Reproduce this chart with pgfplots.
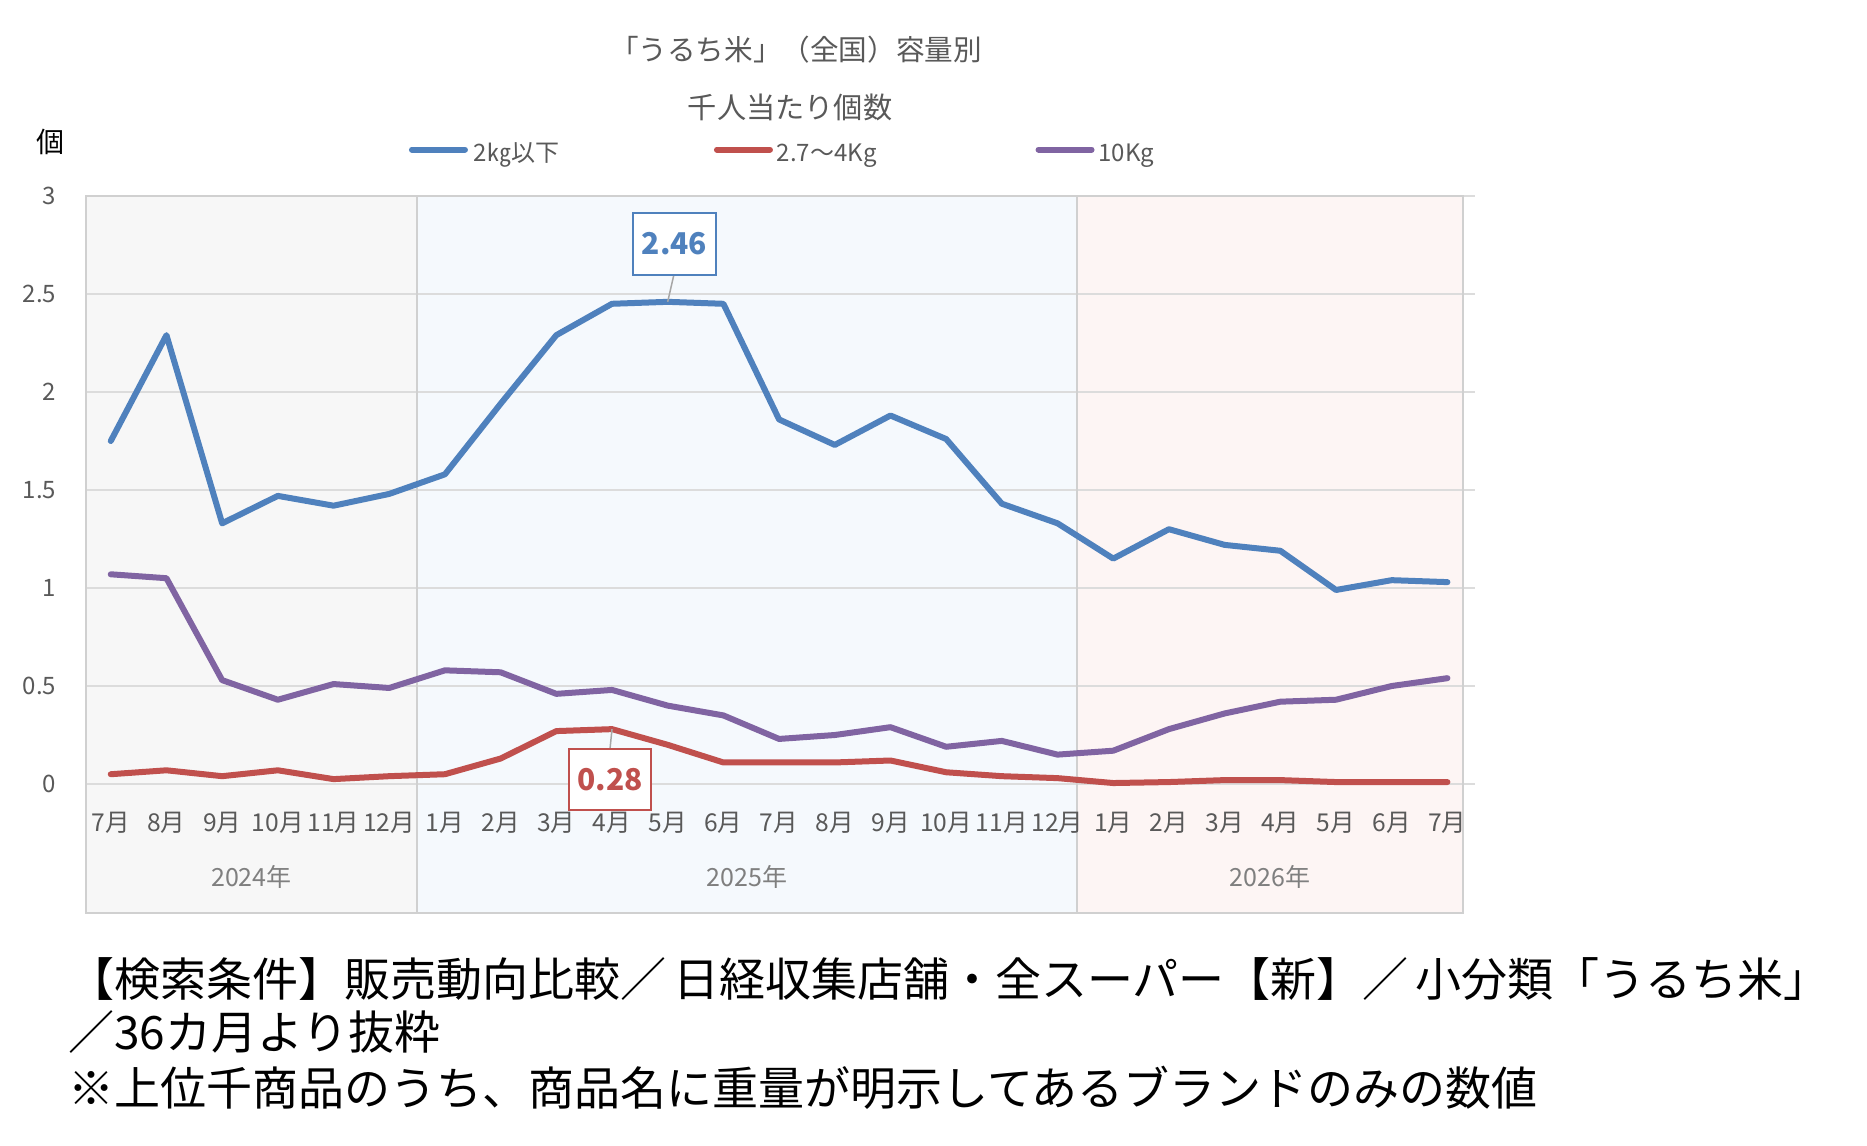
\documentclass[border=0pt]{standalone}
\usepackage{fontspec}
\setmainfont{Noto Sans CJK JP}
\usepackage{pgfplots}
\usepackage{pgfplotstable}
\pgfplotsset{compat=1.18}
\definecolor{cBlue}{HTML}{4F81BD}
\definecolor{cRed}{HTML}{C0504D}
\definecolor{cPurple}{HTML}{8064A2}
\definecolor{bgA}{HTML}{F7F7F7}
\definecolor{bgB}{HTML}{F5F9FD}
\definecolor{bgC}{HTML}{FDF5F4}
\definecolor{cGrid}{HTML}{DCDCDC}
\definecolor{cBorder}{HTML}{D0D0D0}
\definecolor{cText}{HTML}{595959}
\definecolor{cYear}{HTML}{7F7F7F}
\definecolor{cLeader}{HTML}{A6A6A6}

\pgfplotstableread{
x blue red purple
0 1.75 0.05 1.07
1 2.29 0.07 1.05
2 1.33 0.04 0.53
3 1.47 0.07 0.43
4 1.42 0.025 0.51
5 1.48 0.04 0.49
6 1.58 0.05 0.58
7 1.94 0.13 0.57
8 2.29 0.27 0.46
9 2.45 0.28 0.48
10 2.46 0.20 0.40
11 2.45 0.11 0.35
12 1.86 0.11 0.23
13 1.73 0.11 0.25
14 1.88 0.12 0.29
15 1.76 0.06 0.19
16 1.43 0.04 0.22
17 1.33 0.03 0.15
18 1.15 0.005 0.17
19 1.30 0.01 0.28
20 1.22 0.02 0.36
21 1.19 0.02 0.42
22 0.99 0.01 0.43
23 1.04 0.01 0.50
24 1.03 0.01 0.54
}\datatable

\begin{document}
\begin{tikzpicture}
\path (0,0) rectangle (933.5pt,572.5pt);
\begin{axis}[
  at={(42.85pt,116pt)}, anchor=south west,
  scale only axis, width=688.65pt, height=358.5pt,
  xmin=-0.45, xmax=24.28, ymin=-0.658, ymax=3,
  axis on top,
  axis line style={draw=none},
  tick style={draw=none}, major tick length=0pt,
  xtick={0,...,24},
  xticklabels={7月,8月,9月,10月,11月,12月,1月,2月,3月,4月,5月,6月,7月,8月,9月,10月,11月,12月,1月,2月,3月,4月,5月,6月,7月},
  ytick={0,0.5,1,1.5,2,2.5,3},
  yticklabels={0,0.5,1,1.5,2,2.5,3},
  xticklabel style={anchor=center, yshift=45pt, inner sep=0pt, font=\fontsize{12.3}{14}\selectfont, text=cText},
  yticklabel style={anchor=east, xshift=-14.5pt, inner sep=0pt, font=\fontsize{12}{14}\selectfont, text=cText},
  clip=false,
  legend columns=3,
  legend style={at={(axis description cs:0.2347,1.0586)}, anchor=west, draw=none, fill=none,
    inner sep=0pt, outer sep=0pt, column sep=0pt, font=\fontsize{12}{14}\selectfont, text=cText,
    nodes={inner sep=0pt}},
  legend image code/.code={\draw[line width=3pt, line cap=round] (0pt,0.22em) -- (26.5pt,0.22em);},
]
\fill[bgA] (axis cs:-0.45,-0.658) rectangle (axis cs:5.5,3);
\fill[bgB] (axis cs:5.5,-0.658) rectangle (axis cs:17.34,3);
\fill[bgC] (axis cs:17.34,-0.658) rectangle (axis cs:24.28,3);
\draw[cGrid, line width=1pt] (axis cs:-0.45,0) -- (axis cs:24.49,0);
\draw[cGrid, line width=1pt] (axis cs:-0.45,0.5) -- (axis cs:24.49,0.5);
\draw[cGrid, line width=1pt] (axis cs:-0.45,1) -- (axis cs:24.49,1);
\draw[cGrid, line width=1pt] (axis cs:-0.45,1.5) -- (axis cs:24.49,1.5);
\draw[cGrid, line width=1pt] (axis cs:-0.45,2) -- (axis cs:24.49,2);
\draw[cGrid, line width=1pt] (axis cs:-0.45,2.5) -- (axis cs:24.49,2.5);
\draw[cGrid, line width=1pt] (axis cs:-0.45,3) -- (axis cs:24.49,3);
\draw[cBorder, line width=1pt] (axis cs:-0.45,-0.658) rectangle (axis cs:24.28,3);
\draw[cBorder, line width=1pt] (axis cs:5.5,-0.658) -- (axis cs:5.5,3);
\draw[cBorder, line width=1pt] (axis cs:17.34,-0.658) -- (axis cs:17.34,3);
\node[font=\fontsize{12.5}{14}\selectfont, text=cYear] at (axis cs:2.525,-0.474) {2024年};
\node[font=\fontsize{12.5}{14}\selectfont, text=cYear] at (axis cs:11.42,-0.474) {2025年};
\node[font=\fontsize{12.5}{14}\selectfont, text=cYear] at (axis cs:20.81,-0.474) {2026年};

\addplot[cBlue, line width=3pt, line join=round, line cap=round] table[x=x, y=blue] {\datatable};
\addlegendentry{\hspace{3pt}\makebox[120pt][l]{2㎏以下}}
\addplot[cRed, line width=3pt, line join=round, line cap=round] table[x=x, y=red] {\datatable};
\addlegendentry{\hspace{2pt}\makebox[129.3pt][l]{2.7～4Kg}}
\addplot[cPurple, line width=3pt, line join=round, line cap=round] table[x=x, y=purple] {\datatable};
\addlegendentry{\hspace{2pt}10Kg}

\draw[cLeader, line width=0.75pt] (axis cs:10.11,2.597) -- (axis cs:10,2.46);
\node[draw=cBlue, line width=0.75pt, fill=white, text=cBlue, font=\bfseries\fontsize{15}{17}\selectfont,
  minimum width=41.5pt, minimum height=31pt, inner sep=0pt] at (axis cs:10.122,2.755) {2.46};
\draw[cLeader, line width=0.75pt] (axis cs:8.964,0.1786) -- (axis cs:9,0.28);
\node[draw=cRed, line width=0.75pt, fill=white, text=cRed, font=\bfseries\fontsize{15}{17}\selectfont,
  minimum width=41pt, minimum height=30.5pt, inner sep=0pt] at (axis cs:8.964,0.023) {0.28};
\end{axis}
\node[font=\fontsize{14.3}{16}\selectfont, text=cText, inner sep=0pt] at (398pt,547.5pt) {「うるち米」（全国）容量別};
\node[font=\fontsize{14.6}{16}\selectfont, text=cText, inner sep=0pt] at (395pt,519pt) {千人当たり個数};
\node[font=\fontsize{14}{16}\selectfont, text=black, inner sep=0pt] at (25pt,501.5pt) {個};
\node[font=\fontsize{23}{26}\selectfont, text=black, inner sep=0pt, anchor=west] at (34pt,83pt) {【検索条件】販売動向比較／\hspace{0.15em}日経収集店舗・全スーパー【新】／\hspace{0.15em}小分類「うるち米」};
\node[font=\fontsize{23}{26}\selectfont, text=black, inner sep=0pt, anchor=west] at (34pt,56.5pt) {／36カ月より抜粋};
\node[font=\fontsize{23}{26}\selectfont, text=black, inner sep=0pt, anchor=west] at (34pt,28.5pt) {※上位千商品のうち、商品名に重量が明示してあるブランドのみの数値};
\end{tikzpicture}
\end{document}
